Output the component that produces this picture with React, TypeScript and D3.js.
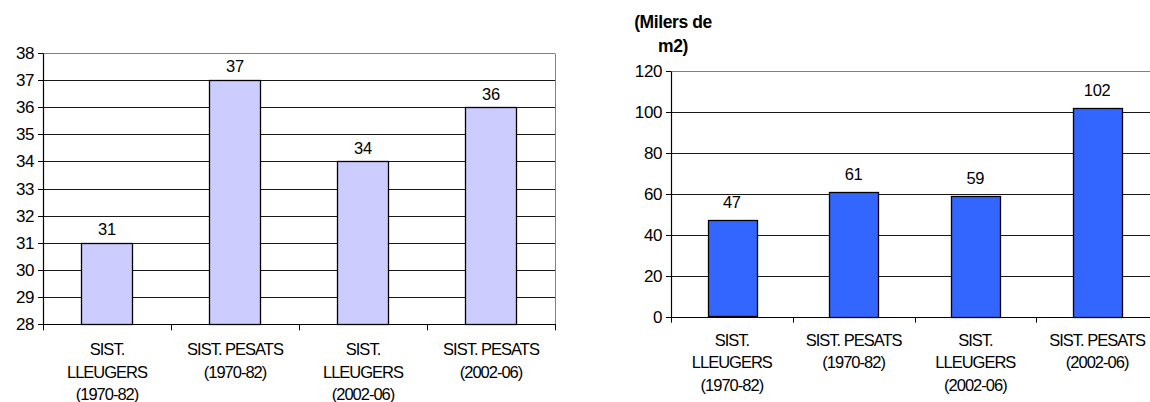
import * as d3 from 'd3';

// category labels (line breaks split into tspans)
const categories = [
  'SIST.\nLLEUGERS\n(1970-82)',
  'SIST. PESATS\n(1970-82)',
  'SIST.\nLLEUGERS\n(2002-06)',
  'SIST. PESATS\n(2002-06)',
];

// left chart
const leftValues = [31, 37, 34, 36];
const leftTicks = [28, 29, 30, 31, 32, 33, 34, 35, 36, 37, 38];

// right chart (milers de m2)
const rightValues = [47, 61, 59, 102];
const rightTicks = [0, 20, 40, 60, 80, 100, 120];
const rightTitle = ['(Milers de', 'm2)'];

const FONT = 'Arial, "Liberation Sans", sans-serif';

interface BarChartProps {
  values: number[];
  ticks: number[];
  x0: number;
  x1: number;
  yTop: number;
  yBottom: number;
  fill: string;
  labelGap: number;
  catGap: number;
  title?: string[];
}

const BarChart = ({values, ticks, x0, x1, yTop, yBottom, fill, labelGap, catGap, title}: BarChartProps) => {
  const xScale = d3.scaleBand<number>()
    .domain(values.map((_, i) => i))
    .range([x0, x1])
    .paddingInner(0.6)
    .paddingOuter(0.3);
  const yScale = d3.scaleLinear()
    .domain([ticks[0], ticks[ticks.length - 1]])
    .range([yBottom, yTop]);
  const step = xScale.step();
  const snap = (v: number) => Math.round(v) + 0.5;

  return (
    <g fontFamily={FONT}>
      {/* gridlines */}
      {ticks.map((t, i) => (
        <line key={'g' + t} x1={x0} x2={x1} y1={snap(yScale(t))} y2={snap(yScale(t))}
          stroke={i === ticks.length - 1 ? '#808080' : '#1a1a1a'} strokeWidth={1} />
      ))}
      {/* right border of plot area */}
      <line x1={snap(x1)} x2={snap(x1)} y1={snap(yTop)} y2={snap(yBottom)} stroke="#808080" />

      {/* bars */}
      {values.map((v, i) => (
        <rect key={'b' + i}
          x={snap(xScale(i)!)} y={snap(yScale(v))}
          width={Math.round(xScale.bandwidth())} height={Math.round(yScale(ticks[0]) - yScale(v))}
          fill={fill} stroke="#000" strokeWidth={1.3} />
      ))}
      {values.map((v, i) => (
        <text key={'v' + i} x={xScale(i)! + xScale.bandwidth() / 2} y={yScale(v) - labelGap}
          textAnchor="middle" fontSize={16.5} letterSpacing={-0.3} fill="#000">{v}</text>
      ))}

      {/* y axis */}
      <line x1={snap(x0)} x2={snap(x0)} y1={snap(yTop)} y2={snap(yBottom)} stroke="#000" strokeWidth={1.2} />
      {ticks.map(t => (
        <g key={'t' + t}>
          <line x1={x0 - 5} x2={x0} y1={snap(yScale(t))} y2={snap(yScale(t))} stroke="#000" />
          <text x={x0 - 9} y={yScale(t)} dy="0.36em" textAnchor="end" fontSize={17}
            letterSpacing={-0.4} fill="#000">{t}</text>
        </g>
      ))}

      {/* x axis */}
      <line x1={x0} x2={x1 + 1} y1={snap(yBottom)} y2={snap(yBottom)} stroke="#000" strokeWidth={1.2} />
      {values.map((_, i) => (
        <line key={'xt' + i} x1={snap(x0 + (i + 1) * step)} x2={snap(x0 + (i + 1) * step)}
          y1={snap(yBottom)} y2={yBottom + 6} stroke="#000" />
      ))}
      <line x1={snap(x0)} x2={snap(x0)} y1={snap(yBottom)} y2={yBottom + 6} stroke="#000" />
      {categories.map((c, i) => (
        <text key={'c' + i} x={xScale(i)! + xScale.bandwidth() / 2} y={yBottom + catGap}
          textAnchor="middle" fontSize={16.5} letterSpacing={-1} fill="#000">
          {c.split('\n').map((line, j) => (
            <tspan key={j} x={xScale(i)! + xScale.bandwidth() / 2} dy={j === 0 ? 0 : 22.5}>{line}</tspan>
          ))}
        </text>
      ))}

      {title && title.map((line, j) => (
        <text key={'ti' + j} x={x0 + 2} y={28 + j * 23.5} textAnchor="middle"
          fontSize={17.5} fontWeight="bold" letterSpacing={-0.4} fill="#000">{line}</text>
      ))}
    </g>
  );
};

const App = () => (
  <svg width={1150} height={402}
    style={{position: 'absolute', left: 0, top: 0, background: '#fff', display: 'block'}}>
    <rect width={1150} height={402} fill="#fff" />
    <BarChart values={leftValues} ticks={leftTicks}
      x0={43} x1={555} yTop={52.7} yBottom={324.3}
      fill="#CCCCFF" labelGap={7.5} catGap={31} />
    <BarChart values={rightValues} ticks={rightTicks}
      x0={671} x1={1158} yTop={71} yBottom={316.7}
      fill="#3366FF" labelGap={12} catGap={29} title={rightTitle} />
  </svg>
);

export default App;
